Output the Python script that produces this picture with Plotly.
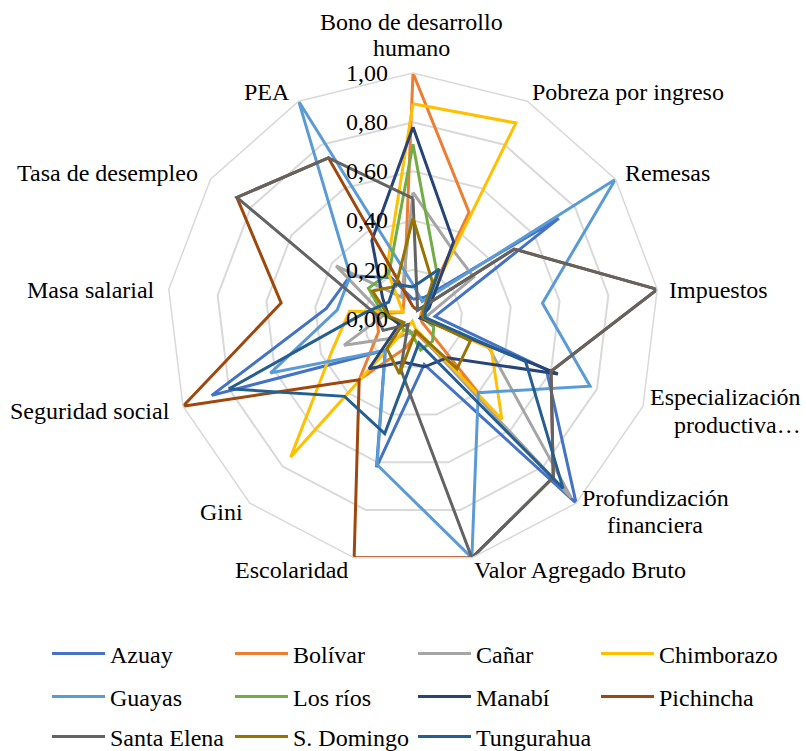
import math
import plotly.graph_objects as go

# ---------------- data ----------------
categories = [
    "Bono de desarrollo humano", "Pobreza por ingreso", "Remesas", "Impuestos",
    "Especialización productiva…", "Profundización financiera", "Valor Agregado Bruto",
    "Escolaridad", "Gini", "Seguridad social", "Masa salarial", "Tasa de desempleo", "PEA",
]
series_names = ["Azuay", "Bolívar", "Cañar", "Chimborazo", "Guayas", "Los ríos",
                "Manabí", "Pichincha", "Santa Elena", "S. Domingo", "Tungurahua"]

azuay       = [0.08, 0.10, 0.72, 0.09, 0.58, 1.00, 0.19, 0.62, 0.17, 0.875, 0.355, 0.31, 0.19]
bolivar     = [1.00, 0.49, 0.04, 0.03, 0.04, 0.40, 0.06, 0.12, 0.33, 0.15, 0.15, 0.05, 0.08]
canar       = [0.515, 0.33, 0.30, 0.05, 0.33, 0.97, 0.05, 0.06, 0.10, 0.30, 0.12, 0.38, 0.10]
chimborazo  = [0.875, 0.90, 0.05, 0.03, 0.34, 0.545, 0.04, 0.01, 0.75, 0.35, 0.26, 0.05, 0.23]
guayas      = [0.14, 0.08, 1.00, 0.53, 0.77, 0.40, 1.00, 0.61, 0.17, 0.62, 0.31, 0.31, 1.00]
los_rios    = [0.71, 0.21, 0.05, 0.04, 0.09, 0.12, 0.13, 0.05, 0.06, 0.05, 0.12, 0.22, 0.21]
manabi      = [0.78, 0.355, 0.08, 0.03, 0.63, 0.21, 0.20, 0.18, 0.27, 0.06, 0.10, 0.15, 0.36]
pichincha   = [0.05, 0.04, 0.50, 1.00, 0.60, 0.86, 1.00, 1.00, 0.33, 1.00, 0.54, 0.87, 0.74]
santa_elena = [0.49, 0.04, 0.50, 1.00, 0.60, 0.86, 1.00, 0.21, 0.03, 0.13, 0.15, 0.87, 0.74]
s_domingo   = [0.41, 0.17, 0.05, 0.04, 0.25, 0.27, 0.05, 0.23, 0.16, 0.04, 0.10, 0.20, 0.15]
tungurahua  = [0.13, 0.23, 0.06, 0.05, 0.49, 0.92, 0.10, 0.48, 0.42, 0.80, 0.20, 0.12, 0.16]

radial_ticks = [0.0, 0.2, 0.4, 0.6, 0.8, 1.0]

# ---------------- style ----------------
colors = ["#4472C4", "#ED7D31", "#A5A5A5", "#FFC000", "#5B9BD5", "#70AD47",
          "#264478", "#9E480E", "#636363", "#997300", "#255E91"]
legend_ids = ["legend"] * 4 + ["legend2"] * 4 + ["legend3"] * 3
all_values = [azuay, bolivar, canar, chimborazo, guayas, los_rios,
              manabi, pichincha, santa_elena, s_domingo, tungurahua]

W, H = 806, 751
CX, CY, R = 413.0, 319.0, 246.0
FONT = "Liberation Serif, Times New Roman, serif"
FS = 24


def px_x(x):
    return x / W


def px_y(y):
    return 1 - y / H


fig = go.Figure()
for name, vals, col, leg in zip(series_names, all_values, colors, legend_ids):
    fig.add_trace(go.Scatterpolar(
        r=vals + [vals[0]], theta=categories + [categories[0]],
        mode="lines", name=name, legend=leg,
        line=dict(color=col, width=3), hoverinfo="name+theta+r",
    ))

fig.update_layout(
    width=W, height=H,
    margin=dict(l=0, r=0, t=0, b=0, autoexpand=False),
    paper_bgcolor="white",
    separators=",.",
    font=dict(family=FONT, size=FS, color="#000000"),
    polar=dict(
        domain=dict(x=[px_x(CX - R), px_x(CX + R)], y=[px_y(CY + R), px_y(CY - R)]),
        bgcolor="white",
        gridshape="linear",
        radialaxis=dict(
            range=[0, 1], tickvals=radial_ticks, tickformat=".2f",
            angle=90, side="counterclockwise", tickangle=90,
            showline=False, ticks="outside", ticklen=16, tickcolor="rgba(0,0,0,0)",
            gridcolor="#D9D9D9", gridwidth=1.5,
            tickfont=dict(family=FONT, size=FS, color="#000000"),
        ),
        angularaxis=dict(
            direction="clockwise", rotation=90, showgrid=False,
            showticklabels=False, ticks="", linecolor="#D9D9D9", linewidth=1.5,
        ),
    ),
)

# legends: one per row
leg_common = dict(orientation="h", xanchor="left", yanchor="middle", itemwidth=53,
                  entrywidth=115, entrywidthmode="pixels", bgcolor="rgba(0,0,0,0)",
                  font=dict(family=FONT, size=FS, color="#000000"), traceorder="normal")
fig.update_layout(
    legend=dict(x=px_x(47), y=px_y(654), **leg_common),
    legend2=dict(x=px_x(47), y=px_y(697), **leg_common),
    legend3=dict(x=px_x(47), y=px_y(737), **leg_common),
)

# category labels (one annotation per text line), offsets relative to each axis end
label_lines = [
    ("Bono de desarrollo", 0, -2, -51, "center"),
    ("humano", 0, -2, -25, "center"),
    ("Pobreza por ingreso", 1, 3, -9, "left"),
    ("Remesas", 2, 8, -6, "left"),
    ("Impuestos", 3, 10, 1, "left"),
    ("Especialización", 4, 160, -9, "right"),
    ("productiva…", 4, 160, 19, "right"),
    ("Profundización", 5, 79, -5, "center"),
    ("financiera", 5, 79, 22, "center"),
    ("Valor Agregado Bruto", 6, 0, 12, "left"),
    ("Escolaridad", 7, -4, 12, "right"),
    ("Gini", 8, -5, 9, "right"),
    ("Seguridad social", 9, -11, 5, "right"),
    ("Masa salarial", 10, -12, 1, "right"),
    ("Tasa de desempleo", 11, -11, -6, "right"),
    ("PEA", 12, -7, -9, "right"),
]
n = len(categories)
for text, idx, dx, dy, xa in label_lines:
    ang = math.radians(idx * 360.0 / n)
    vx = CX + R * math.sin(ang)
    vy = CY - R * math.cos(ang)
    fig.add_annotation(
        x=px_x(vx + dx), y=px_y(vy + dy), xref="paper", yref="paper",
        text=text, showarrow=False, xanchor=xa, yanchor="middle",
        font=dict(family=FONT, size=FS, color="#000000"),
    )

fig.write_html("out.html", config={"displayModeBar": False},
               post_script="document.body.style.margin='0px';")
